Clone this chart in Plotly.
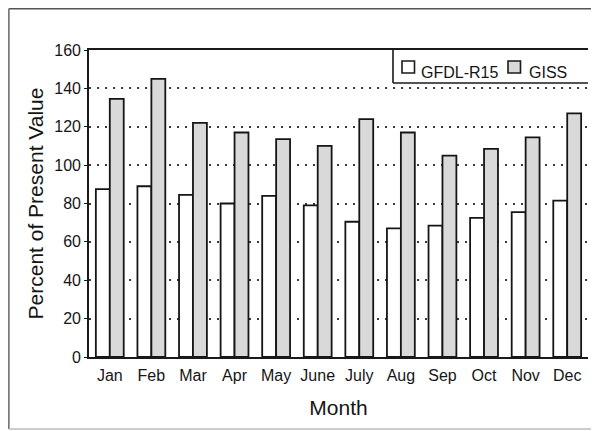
import plotly.graph_objects as go

months = ["Jan", "Feb", "Mar", "Apr", "May", "June", "July", "Aug", "Sep", "Oct", "Nov", "Dec"]
gfdl_r15 = [87.5, 89, 84.5, 80, 84, 79, 70.5, 67, 68.5, 72.5, 75.5, 81.5]
giss = [134.5, 145, 122, 117, 113.5, 110, 124, 117, 105, 108.5, 114.5, 127]
y_ticks = [0, 20, 40, 60, 80, 100, 120, 140, 160]
series_names = ["GFDL-R15", "GISS"]
series_fills = ["white", "#d9d9d9"]

# page body has an 8px margin, so the figure is drawn 8px in from the window edge
OFF = 8
W, H = 599 - OFF, 431 - OFF
L, T = 89 - OFF, 50 - OFF
R = W - (588 - OFF)
B = H - (357 - OFF)
PW, PH = W - L - R, H - T - B


def px_x(page_x):
    return (page_x - OFF - L) / PW


def px_y(page_y):
    return 1 - (page_y - OFF - T) / PH


fig = go.Figure()
for name, vals, fill in zip(series_names, [gfdl_r15, giss], series_fills):
    fig.add_trace(go.Bar(x=months, y=vals, name=name,
                         marker=dict(color=fill, line=dict(color="#151515", width=1.8))))

font_fam = "Liberation Sans, Arial, Helvetica, sans-serif"

fig.update_layout(
    width=W, height=H,
    margin=dict(l=L, r=R, t=T, b=B, pad=0, autoexpand=False),
    paper_bgcolor="white", plot_bgcolor="white",
    barmode="group", bargap=0.33, bargroupgap=0,
    font=dict(family=font_fam, color="#151515", size=15),
    showlegend=False,
    xaxis=dict(showline=True, mirror=True, linecolor="#1a1a1a", linewidth=1.6,
               ticks="", tickfont=dict(size=16), ticklabelstandoff=3,
               title=dict(text="Month", font=dict(size=21), standoff=17),
               showgrid=False, automargin=False),
    yaxis=dict(range=[0, 160], tickvals=y_ticks, showline=True, linecolor="#1a1a1a",
               linewidth=1.6, ticks="outside", ticklen=3, tickcolor="#1a1a1a",
               tickfont=dict(size=16),
               showgrid=True, gridcolor="#3a3a3a", gridwidth=2, griddash="2px,6px",
               zeroline=False, automargin=False,
               title=dict(text="Percent of Present Value", font=dict(size=21), standoff=5)),
)

# outer page frame (scan border)
fx0 = -L / PW + 0.8 / PW
fy_top = 1 + T / PH - 0.8 / PH
fy_bot = px_y(429)
fig.add_shape(type="line", xref="paper", yref="paper", x0=fx0, x1=1 + R / PW,
              y0=fy_top, y1=fy_top, line=dict(color="#555", width=1.5))
fig.add_shape(type="line", xref="paper", yref="paper", x0=fx0, x1=fx0,
              y0=fy_top, y1=fy_bot, line=dict(color="#777", width=1.8))
fig.add_shape(type="line", xref="paper", yref="paper", x0=fx0, x1=1 + R / PW,
              y0=fy_bot, y1=fy_bot, line=dict(color="#bbb", width=1.5))

# legend box edges (left and bottom)
lx = px_x(393)
ly = px_y(83)
fig.add_shape(type="line", xref="paper", yref="paper", x0=lx, x1=lx, y0=1, y1=ly,
              line=dict(color="#1a1a1a", width=1.6))
fig.add_shape(type="line", xref="paper", yref="paper", x0=lx, x1=1, y0=ly, y1=ly,
              line=dict(color="#1a1a1a", width=1.6))

# legend swatches and labels
swatch_left = [402, 508]
label_left = [419, 527]
for name, fill, sx, tx in zip(series_names, series_fills, swatch_left, label_left):
    fig.add_shape(type="rect", xref="paper", yref="paper",
                  x0=px_x(sx), x1=px_x(sx + 12.5), y0=px_y(61), y1=px_y(73),
                  fillcolor=fill, line=dict(color="#1a1a1a", width=1.6))
    fig.add_annotation(xref="paper", yref="paper", x=px_x(tx), y=px_y(72),
                       xanchor="left", yanchor="middle", text=name, showarrow=False,
                       font=dict(size=16, color="#151515"))

fig.write_html("out.html")
